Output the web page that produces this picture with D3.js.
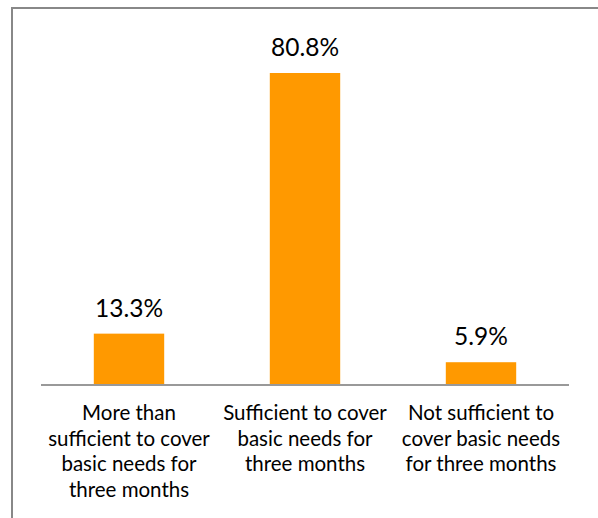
<!DOCTYPE html>
<meta charset="utf-8">
<style>
    body { margin: 0; background: #fff; }
    .bar { fill: #ff9900; }
    .value { font: 24.5px Lato, sans-serif; fill: #000; text-anchor: middle; }
    .cat { font: 20.5px Lato, sans-serif; fill: #000; text-anchor: middle; }
    .baseline { stroke: #999; stroke-width: 2; }
    .frame { fill: none; stroke: #888; stroke-width: 2; }
</style>
<body>
<script src="https://d3js.org/d3.v7.min.js"></script>
<script>
    // data
    var categories = ["More than sufficient to cover basic needs for three months",
        "Sufficient to cover basic needs for three months",
        "Not sufficient to cover basic needs for three months"];
    var catLines = [
        ["More than", "sufficient to cover", "basic needs for", "three months"],
        ["Sufficient to cover", "basic needs for", "three months"],
        ["Not sufficient to", "cover basic needs", "for three months"]
    ];
    var values = [13.3, 80.8, 5.9];

    var width = 598, height = 518;
    var plot = { left: 41, right: 569, top: 73, bottom: 385 };

    var svg = d3.select("body").append("svg")
        .attr("width", width)
        .attr("height", height);

    // outer frame (only top and left edges show inside the crop)
    svg.append("rect")
        .attr("class", "frame")
        .attr("x", 12).attr("y", 8)
        .attr("width", 620).attr("height", 540);

    var x = d3.scaleBand()
        .domain(categories)
        .range([plot.left, plot.right])
        .paddingInner(0.6)
        .paddingOuter(0.3);

    var y = d3.scaleLinear()
        .domain([0, 80.8])
        .range([plot.bottom, plot.top]);

    svg.append("g")
        .selectAll("rect")
        .data(values)
        .enter().append("rect")
        .attr("class", "bar")
        .attr("x", (d, i) => x(categories[i]))
        .attr("width", x.bandwidth())
        .attr("y", d => y(d))
        .attr("height", d => y(0) - y(d));

    svg.append("line")
        .attr("class", "baseline")
        .attr("x1", plot.left).attr("x2", plot.right)
        .attr("y1", y(0)).attr("y2", y(0));

    svg.append("g")
        .selectAll("text")
        .data(values)
        .enter().append("text")
        .attr("class", "value")
        .attr("x", (d, i) => x(categories[i]) + x.bandwidth() / 2)
        .attr("y", d => y(d) - 17)
        .text(d => d.toFixed(1) + "%");

    // category labels, wrapped as in the original
    var cat = svg.append("g")
        .selectAll("text")
        .data(categories)
        .enter().append("text")
        .attr("class", "cat")
        .attr("x", d => x(d) + x.bandwidth() / 2)
        .attr("y", y(0) + 35);

    cat.selectAll("tspan")
        .data((d, i) => catLines[i])
        .enter().append("tspan")
        .attr("x", function () { return d3.select(this.parentNode).attr("x"); })
        .attr("dy", (d, i) => i ? 25.5 : 0)
        .text(d => d);
</script>
</body>
